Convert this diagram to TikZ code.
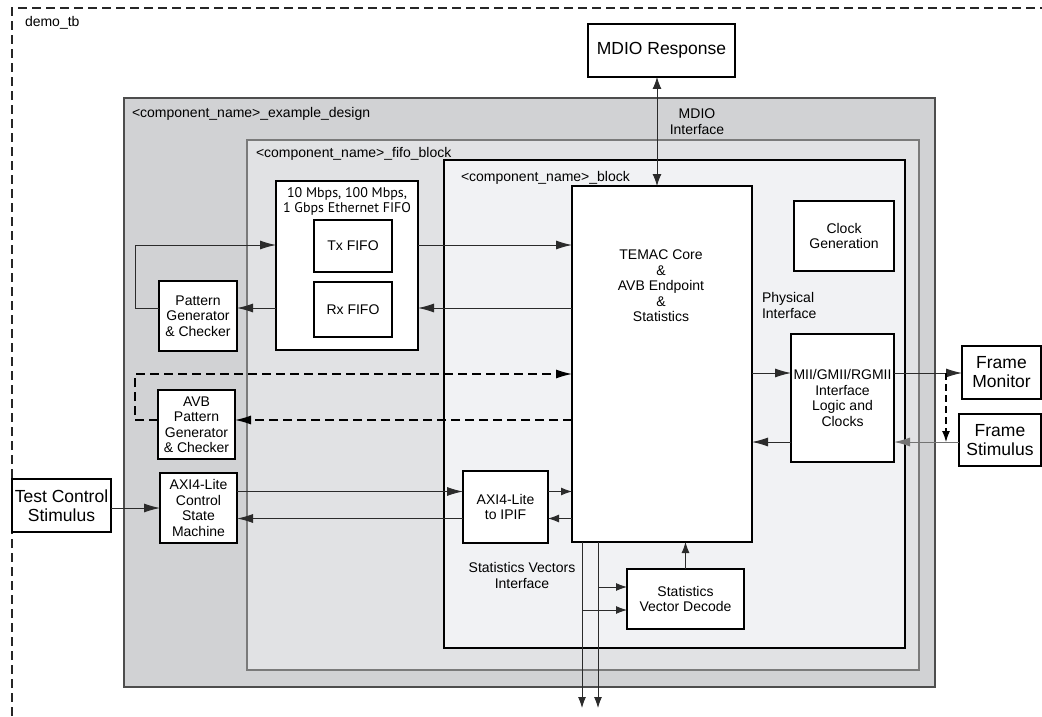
\documentclass[tikz,border=0pt]{standalone}
\usepackage{fontspec}
\setmainfont{Liberation Sans}
\newfontfamily\myriad{PT Sans}
\usetikzlibrary{arrows.meta,calc}
\definecolor{exfill}{HTML}{D1D2D4}
\definecolor{exdraw}{HTML}{4D4D4D}
\definecolor{fbfill}{HTML}{E1E2E4}
\definecolor{fbdraw}{HTML}{7A7A7A}
\definecolor{blfill}{HTML}{F1F2F4}
\definecolor{linec}{HTML}{2B2B2B}
\begin{document}
\begin{tikzpicture}[x=1pt,y=-1pt,
  every node/.style={font=\fontsize{14}{15.5}\selectfont, inner sep=0pt, outer sep=0pt},
  box/.style={draw=black, fill=white, line width=1.3pt, align=center},
  bigbox/.style={box, font=\fontsize{17.5}{19}\selectfont},
  lbl/.style={anchor=west},
  conn/.style={draw=linec, line width=0.9pt},
  tipL/.style={-{Latex[length=16pt,width=9pt]}},
  tipS/.style={-{Latex[length=11pt,width=8pt]}},
  dash conn/.style={conn, draw=black, line width=1.1pt, dash pattern=on 9pt off 5pt}]
\useasboundingbox (0,0) rectangle (1042,717);

% outer testbench frame
\begin{scope}
\clip (0,0) rectangle (1042,717);
\draw[line width=1.2pt, black!85, dash pattern=on 9pt off 5pt] (12,730) -- (12,8) -- (1060,8);
\end{scope}
\node[lbl] (tblbl) at (25,23) {demo\_tb};

% containers
\node[draw=exdraw, fill=exfill, line width=1.2pt, minimum width=811, minimum height=589] (ex) at (529.5,392.5) {};
\node[lbl] (exlbl) at (132,114) {<component\_name>\_example\_design};
\node[draw=fbdraw, fill=fbfill, line width=1.1pt, minimum width=672, minimum height=530] (fb) at (583,405) {};
\node[lbl] (fblbl) at (256,154) {<component\_name>\_fifo\_block};
\node[draw=black, fill=blfill, line width=1.5pt, minimum width=461, minimum height=488] (bl) at (674.5,404) {};
\node[lbl] (bllbl) at (461,178) {<component\_name>\_block};

% blocks
\node[bigbox, minimum width=147, minimum height=53] (mdio) at (661.5,50.5) {MDIO Response};
\node[align=center] (mdiolbl) at (697,121.5) {MDIO\\Interface};

\node[box, minimum width=180, minimum height=356] (temac) at (662,364) {};
\node[align=center] (temactxt) at (661,286) {TEMAC Core\\\&\\AVB Endpoint\\\&\\Statistics};

\node[box, minimum width=100, minimum height=70] (clk) at (844,236) {Clock\\Generation};
\node[align=left, anchor=west] (phylbl) at (762,305.5) {Physical\\Interface};
\node[box, minimum width=103, minimum height=128] (mii) at (842.5,398) {MII/GMII/RGMII\\Interface\\Logic and\\Clocks};

\node[bigbox, minimum width=79, minimum height=53] (fmon) at (1001.5,372.5) {Frame\\Monitor};
\node[bigbox, minimum width=82, minimum height=52] (fstim) at (1000,440) {Frame\\Stimulus};

\node[box, minimum width=142, minimum height=169] (fifo) at (347,265.5) {};
\node[align=center, font=\myriad\fontsize{14}{15}\selectfont] (fifotxt) at (347,201.5) {10 Mbps, 100 Mbps,\\1 Gbps Ethernet FIFO};
\node[box, minimum width=78, minimum height=52] (tx) at (353,246) {Tx FIFO};
\node[box, minimum width=78, minimum height=55] (rx) at (353,309.5) {Rx FIFO};

\node[box, minimum width=78, minimum height=70] (pat) at (198,316) {Pattern\\Generator\\\& Checker};
\node[box, minimum width=77, minimum height=69] (avb) at (196.5,424.5) {AVB\\Pattern\\Generator\\\& Checker};
\node[box, minimum width=77, minimum height=70] (axi) at (198.5,508) {AXI4-Lite\\Control\\State\\Machine};
\node[bigbox, minimum width=99, minimum height=53] (test) at (61.5,505.5) {Test Control\\Stimulus};
\node[box, minimum width=85, minimum height=72] (ipif) at (505.5,507) {AXI4-Lite\\to IPIF};
\node[align=center] (svlbl) at (522,575.5) {Statistics Vectors\\Interface};
\node[box, minimum width=117, minimum height=60] (svd) at (685.5,599) {Statistics\\Vector Decode};

% reference coordinates
\coordinate (mdx) at (657,0);
\coordinate (yTx) at (0,245);
\coordinate (yRx) at (0,308);
\coordinate (yAvbT) at (0,374);
\coordinate (yAvbB) at (0,420);
\coordinate (yPhyT) at (0,373);
\coordinate (yPhyB) at (0,442);
\coordinate (yAxT) at (0,491.5);
\coordinate (yAxB) at (0,518.5);
\coordinate (loopx) at (135,0);
\coordinate (sv1) at (582,0);
\coordinate (sv2) at (598,0);
\coordinate (ySv2) at (0,587);
\coordinate (ySv1) at (0,610);
\coordinate (dvx) at (946,0);
\coordinate (out1) at (582,708);
\coordinate (out2) at (598,708);

% MDIO
\draw[conn, {Latex[length=12pt,width=9pt]}-{Latex[length=12pt,width=9pt]}] (mdio.south -| mdx) -- (temac.north -| mdx);

% FIFO paths
\draw[conn, tipL] (fifo.east |- yTx) -- (temac.west |- yTx);
\draw[conn, tipL] (temac.west |- yRx) -- (fifo.east |- yRx);
\draw[conn, tipL] (fifo.west |- yRx) -- (pat.east |- yRx);
\draw[conn, tipL] (pat.west |- yRx) -- (loopx |- yRx) -- (loopx |- yTx) -- (fifo.west |- yTx);

% AVB dashed paths
\draw[dash conn, tipL] (avb.west |- yAvbB) -- (loopx |- yAvbB) -- (loopx |- yAvbT) -- (temac.west |- yAvbT);
\draw[dash conn, tipL] (temac.west |- yAvbB) -- (avb.east |- yAvbB);

% physical interface
\draw[conn, tipL] (temac.east |- yPhyT) -- (mii.west |- yPhyT);
\draw[conn, tipL] (mii.east |- yPhyT) -- (fmon.west |- yPhyT);
\draw[conn, draw=black!55, tipL] (fstim.west |- yPhyB) -- (mii.east |- yPhyB);
\draw[conn, tipL] (mii.west |- yPhyB) -- (temac.east |- yPhyB);
\draw[dash conn, dash pattern=on 7pt off 4pt, tipS] (dvx |- yPhyT) -- (dvx |- yPhyB);

% AXI
\draw[conn, tipL] (test.east |- axi.west) -- (axi.west);
\draw[conn, tipL] (axi.east |- yAxT) -- (ipif.west |- yAxT);
\draw[conn, tipL] (ipif.west |- yAxB) -- (axi.east |- yAxB);
\draw[conn, tipS] (ipif.east |- yAxT) -- (temac.west |- yAxT);
\draw[conn, tipS] (temac.west |- yAxB) -- (ipif.east |- yAxB);

% statistics
\draw[conn, tipS] (svd.north) -- (svd.north |- temac.south);
\draw[conn, tipS] (sv1 |- temac.south) -- (out1);
\draw[conn, tipS] (sv2 |- temac.south) -- (out2);
\draw[conn, tipS] (sv2 |- ySv2) -- (svd.west |- ySv2);
\draw[conn, tipS] (sv1 |- ySv1) -- (svd.west |- ySv1);
\end{tikzpicture}
\end{document}
